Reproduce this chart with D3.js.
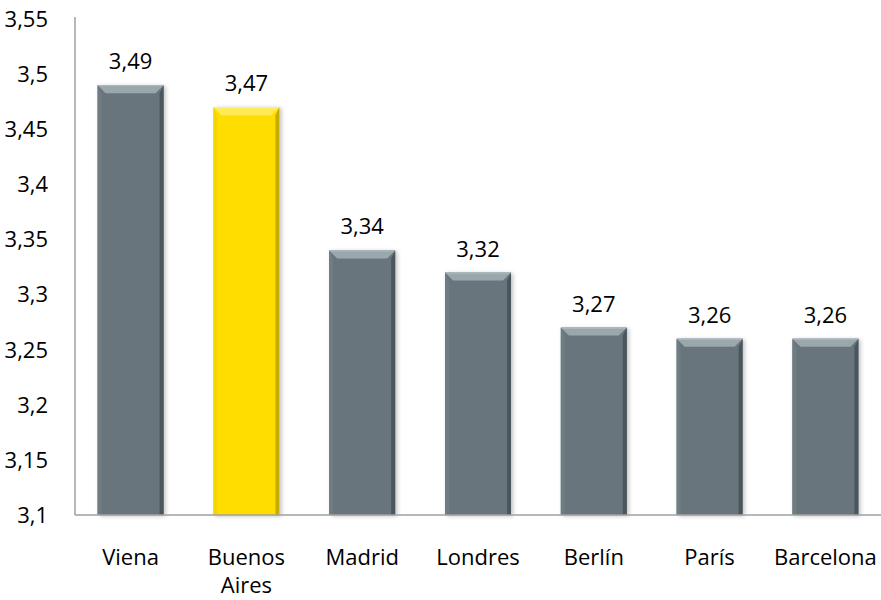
<!DOCTYPE html>
<html>
<head>
<meta charset="utf-8">
<script src="https://cdn.jsdelivr.net/npm/d3@7"></script>
<style>
  html, body { margin: 0; padding: 0; background: #fff; }
  svg { display: block; }
  text { font-family: "Open Sans", sans-serif; fill: #000; }
</style>
</head>
<body>
<svg id="chart" width="881" height="600"></svg>
<script>
const categories = ["Viena", "Buenos Aires", "Madrid", "Londres", "Berlín", "París", "Barcelona"];
const values = [3.49, 3.47, 3.34, 3.32, 3.27, 3.26, 3.26];
const highlighted = ["Buenos Aires"];
const yTicks = [3.1, 3.15, 3.2, 3.25, 3.3, 3.35, 3.4, 3.45, 3.5, 3.55];

(function () {
const svg = d3.select("#chart");
const mLeft = 75, mRight = 881, mTop = 19, mBottom = 515;

const x = d3.scaleBand().domain(categories).range([mLeft, mRight]).paddingInner(0.43).paddingOuter(0.195);
const y = d3.scaleLinear().domain([3.1, 3.55]).range([mBottom, mTop]);

const fmt = v => String(+v.toFixed(2)).replace(".", ",");

const defs = svg.append("defs");
const f = defs.append("filter").attr("id", "shadow").attr("x", "-20%").attr("y", "-10%").attr("width", "150%").attr("height", "130%");
f.append("feDropShadow").attr("dx", 2).attr("dy", 1).attr("stdDeviation", 2).attr("flood-color", "#000").attr("flood-opacity", 0.25);

const palettes = {
  gray:   { main: "#67757b", top: "#9aa7ac", topLight: "#b3bec2", left: "#6f7d83", right: "#4a565b" },
  yellow: { main: "#ffdd00", top: "#ffea55", topLight: "#fff28a", left: "#f5d500", right: "#c9ac00" }
};

// Y axis labels
svg.append("g").selectAll("text").data(yTicks).join("text")
  .attr("x", 48).attr("y", d => y(d)).attr("dy", "0.36em")
  .attr("text-anchor", "end").attr("font-size", 22)
  .text(d => fmt(d));

// Bars
const bars = svg.append("g").selectAll("g").data(categories).join("g");
bars.each(function(c, i) {
  const g = d3.select(this);
  const p = highlighted.includes(c) ? palettes.yellow : palettes.gray;
  const x0 = x(c), w = x.bandwidth(), y0 = y(values[i]), y1 = y(3.1);
  const b = 8, s = 4;
  g.append("rect").attr("x", x0).attr("y", y0).attr("width", w).attr("height", y1 - y0)
    .attr("fill", p.main).attr("filter", "url(#shadow)");
  g.append("polygon").attr("points", [[x0, y0], [x0 + s, y0 + b], [x0 + s, y1], [x0, y1]].join(" ")).attr("fill", p.left);
  g.append("polygon").attr("points", [[x0 + w, y0], [x0 + w - s, y0 + b], [x0 + w - s, y1], [x0 + w, y1]].join(" ")).attr("fill", p.right);
  g.append("polygon").attr("points", [[x0, y0], [x0 + w, y0], [x0 + w - b, y0 + b], [x0 + b, y0 + b]].join(" ")).attr("fill", p.top);
  g.append("line").attr("x1", x0 + 1).attr("x2", x0 + w - 1).attr("y1", y0 + 0.5).attr("y2", y0 + 0.5)
    .attr("stroke", p.topLight).attr("stroke-width", 1);
});

// Value labels
svg.append("g").selectAll("text").data(categories).join("text")
  .attr("x", c => x(c) + x.bandwidth() / 2)
  .attr("y", (c, i) => y(values[i]) - 16)
  .attr("text-anchor", "middle").attr("font-size", 22)
  .text((c, i) => fmt(values[i]));

// Category labels
svg.append("g").selectAll("text").data(categories).join("text")
  .attr("x", c => x(c) + x.bandwidth() / 2)
  .attr("y", 565)
  .attr("text-anchor", "middle").attr("font-size", 22)
  .each(function(c) {
    const t = d3.select(this);
    const parts = c === "Buenos Aires" ? ["Buenos", "Aires"] : [c];
    parts.forEach((p, k) => t.append("tspan").attr("x", x(c) + x.bandwidth() / 2).attr("dy", k === 0 ? 0 : 28).text(p));
  });

// Axis lines
svg.append("line").attr("x1", mLeft).attr("x2", mLeft).attr("y1", 17).attr("y2", mBottom)
  .attr("stroke", "#a0a0a0").attr("stroke-width", 1.5);
svg.append("line").attr("x1", mLeft).attr("x2", mRight).attr("y1", mBottom).attr("y2", mBottom)
  .attr("stroke", "#a0a0a0").attr("stroke-width", 1.5);
})();
</script>
</body>
</html>
